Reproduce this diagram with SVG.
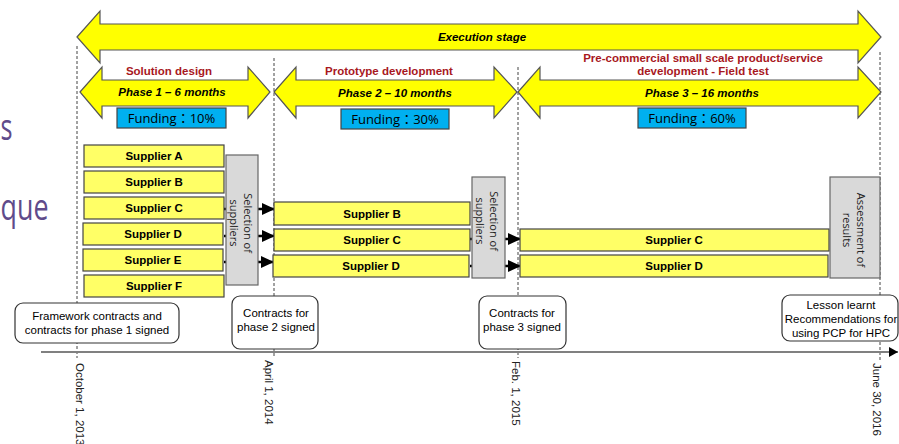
<svg xmlns="http://www.w3.org/2000/svg" width="899" height="444" viewBox="0 0 899 444">
<defs>
<marker id="ah" viewBox="0 0 10 10" refX="10" refY="5" markerWidth="5.5" markerHeight="5" markerUnits="strokeWidth" orient="auto" preserveAspectRatio="none"><path d="M0,0 L10,5 L0,10 Z" fill="#000"/></marker>
<marker id="axh" viewBox="0 0 10 10" refX="10" refY="5" markerWidth="4.5" markerHeight="5" markerUnits="strokeWidth" orient="auto" preserveAspectRatio="none"><path d="M0,0 L10,5 L0,10 Z" fill="#000"/></marker>
<style>
.big{fill:#ffff00;stroke:#555;stroke-width:1.2}
.sup{fill:#ffff66;stroke:#444;stroke-width:1.2}
.sel{fill:#d9d9d9;stroke:#666;stroke-width:1.2}
.fund{fill:#00b0f0;stroke:#444;stroke-width:1.2}
.ms{fill:#fff;stroke:#333;stroke-width:1.2}
.dash{stroke:#444;stroke-width:1;stroke-dasharray:3,2;fill:none}
.conn{stroke:#000;stroke-width:2.4;fill:none}
.b{font-family:"Liberation Sans",Arial,sans-serif;font-weight:bold;font-size:11.5px;fill:#000;text-anchor:middle}
.bi{font-family:"Liberation Sans",Arial,sans-serif;font-weight:bold;font-style:italic;font-size:11.5px;fill:#000;text-anchor:middle}
.red{font-family:"Liberation Sans",Arial,sans-serif;font-weight:bold;font-size:11.5px;fill:#a8181e;text-anchor:middle}
.r{font-family:"Liberation Sans",Arial,sans-serif;font-size:11.5px;fill:#000;text-anchor:middle}
.d{font-family:"Liberation Sans",Arial,sans-serif;font-size:11.5px;fill:#222}
.f{font-family:"Open Sans","Noto Sans CJK TC",sans-serif;font-size:13px;fill:#000;text-anchor:middle}
.o{font-family:"Open Sans",sans-serif;font-size:11px;fill:#222;text-anchor:middle}
.p{font-family:"Open Sans","Liberation Sans",sans-serif;font-size:37px;fill:#5f4b8b}
</style>
</defs>
<rect width="899" height="444" fill="#fff"/>
<text class="p" x="0.5" y="140" textLength="12" lengthAdjust="spacingAndGlyphs">s</text>
<text class="p" x="0.5" y="220" textLength="48" lengthAdjust="spacingAndGlyphs">que</text>

<g id="guides">
<line class="dash" x1="77" y1="46" x2="77" y2="358"/>
<line class="dash" x1="274" y1="58" x2="274" y2="358"/>
<line class="dash" x1="518" y1="67" x2="518" y2="358"/>
<line class="dash" x1="880" y1="52" x2="880" y2="362"/>
</g>

<g id="connectors">
<line class="conn" x1="224" y1="209" x2="275" y2="209" marker-end="url(#ah)"/>
<line class="conn" x1="224" y1="236" x2="275" y2="236" marker-end="url(#ah)"/>
<line class="conn" x1="224" y1="262" x2="274" y2="262" marker-end="url(#ah)"/>
<line class="conn" x1="470" y1="239" x2="521" y2="239" marker-end="url(#ah)"/>
<line class="conn" x1="470" y1="266" x2="521" y2="266" marker-end="url(#ah)"/>
<line x1="41" y1="352" x2="898" y2="352" stroke="#808080" stroke-width="2" marker-end="url(#axh)"/>
</g>

<g id="execution">
<polygon class="big" points="77,37 100,11 100,24 858,24 858,11 881,37 858,63 858,50 100,50 100,63"/>
<text class="bi" x="482" y="41">Execution stage</text>
</g>

<g id="phase1">
<polygon class="big" points="80,92 102,67 102,80 248,80 248,67 270,92 248,118 248,106 102,106 102,118"/>
<text class="red" x="169" y="75">Solution design</text>
<text class="bi" x="172" y="96">Phase 1 – 6 months</text>
</g>
<g id="phase2">
<polygon class="big" points="274,92 296,67 296,80 494,80 494,67 517,92 494,118 494,106 296,106 296,118"/>
<text class="red" x="389" y="75">Prototype development</text>
<text class="bi" x="395" y="97">Phase 2 – 10 months</text>
</g>
<g id="phase3">
<polygon class="big" points="518,92 540,67 540,80 858,80 858,67 881,92 858,118 858,106 540,106 540,118"/>
<text class="red" x="703" y="62">Pre-commercial small scale product/service</text>
<text class="red" x="703" y="75">development - Field test</text>
<text class="bi" x="702" y="97">Phase 3 – 16 months</text>
</g>

<g id="funding1"><rect class="fund" x="117" y="108" width="109" height="20"/><text class="f" x="171.5" y="123">Funding：10%</text></g>
<g id="funding2"><rect class="fund" x="341" y="109" width="108" height="20"/><text class="f" x="395" y="124">Funding：30%</text></g>
<g id="funding3"><rect class="fund" x="638" y="108" width="108" height="20"/><text class="f" x="692" y="123">Funding：60%</text></g>

<g id="p1-supplier-a"><rect class="sup" x="84" y="145" width="140" height="22"/><text class="b" x="154" y="160">Supplier A</text></g>
<g id="p1-supplier-b"><rect class="sup" x="84" y="171" width="140" height="22"/><text class="b" x="154" y="186">Supplier B</text></g>
<g id="p1-supplier-c"><rect class="sup" x="84" y="197" width="140" height="22"/><text class="b" x="154" y="212">Supplier C</text></g>
<g id="p1-supplier-d"><rect class="sup" x="83" y="223" width="140" height="22"/><text class="b" x="153" y="238">Supplier D</text></g>
<g id="p1-supplier-e"><rect class="sup" x="83" y="249" width="140" height="22"/><text class="b" x="153" y="264">Supplier E</text></g>
<g id="p1-supplier-f"><rect class="sup" x="84" y="275" width="140" height="22"/><text class="b" x="154" y="290">Supplier F</text></g>

<g id="selection1"><rect class="sel" x="226" y="155" width="32" height="130"/>
<g transform="translate(242,223) rotate(90)"><text class="o" x="0" y="-1.5">Selection of</text><text class="o" x="0" y="12.5">suppliers</text></g></g>

<g id="p2-supplier-b"><rect class="sup" x="274" y="202" width="196" height="23"/><text class="b" x="372" y="218">Supplier B</text></g>
<g id="p2-supplier-c"><rect class="sup" x="274" y="229" width="196" height="22"/><text class="b" x="372" y="244">Supplier C</text></g>
<g id="p2-supplier-d"><rect class="sup" x="273" y="255" width="196" height="22"/><text class="b" x="371" y="270">Supplier D</text></g>

<g id="selection2"><rect class="sel" x="472" y="177" width="33" height="101"/>
<g transform="translate(488.5,221) rotate(90)"><text class="o" x="0" y="-1.5">Selection of</text><text class="o" x="0" y="12.5">suppliers</text></g></g>

<g id="p3-supplier-c"><rect class="sup" x="520" y="229" width="309" height="22"/><text class="b" x="674" y="244">Supplier C</text></g>
<g id="p3-supplier-d"><rect class="sup" x="520" y="255" width="308" height="22"/><text class="b" x="674" y="270">Supplier D</text></g>

<g id="assessment"><rect class="sel" x="830" y="177" width="50" height="101"/>
<g transform="translate(855,230) rotate(90)"><text class="o" x="0" y="-1.5">Assessment of</text><text class="o" x="0" y="12.5">results</text></g></g>

<g id="milestone1"><rect class="ms" x="15" y="303" width="164" height="40" rx="8"/><text class="r" x="97" y="320">Framework contracts and</text><text class="r" x="97" y="334">contracts for phase 1 signed</text></g>
<g id="milestone2"><rect class="ms" x="232" y="296" width="86" height="53" rx="8"/><text class="r" x="276" y="317">Contracts for</text><text class="r" x="276" y="331">phase 2 signed</text></g>
<g id="milestone3"><rect class="ms" x="479" y="296" width="87" height="53" rx="8"/><text class="r" x="522" y="317">Contracts for</text><text class="r" x="522" y="331">phase 3 signed</text></g>
<g id="milestone4"><rect class="ms" x="782" y="295" width="116" height="46" rx="8"/><text class="r" x="841" y="309">Lesson learnt</text><text class="r" x="841" y="323">Recommendations for</text><text class="r" x="841" y="337">using PCP for HPC</text></g>

<g id="dates">
<text class="d" transform="translate(76,363) rotate(90)">October 1, 2013</text>
<text class="d" transform="translate(265,360) rotate(90)">April 1, 2014</text>
<text class="d" transform="translate(512,361) rotate(90)">Feb. 1, 2015</text>
<text class="d" transform="translate(873,363) rotate(90)">June 30, 2016</text>
</g>
</svg>
